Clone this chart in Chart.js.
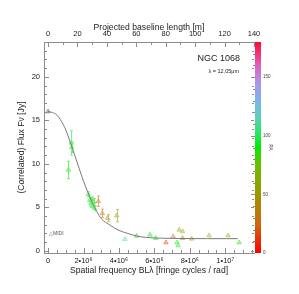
<!DOCTYPE html>
<html>
<head>
<meta charset="utf-8">
<script src="https://cdn.jsdelivr.net/npm/chart.js@4"></script>
<style>
  html, body { margin: 0; padding: 0; background: #fff; }
</style>
</head>
<body>
<canvas id="myChart" width="299" height="294"></canvas>
<script>
// MIDI correlated fluxes of NGC 1068 at 12.05 micron
const spatialFreq = [0, 1.30e6, 1.33e6, 1.15e6, 2.27e6, 2.35e6, 2.42e6, 2.48e6, 2.52e6, 2.58e6, 2.62e6, 2.45e6,
  2.83e6, 3.06e6, 3.36e6, 3.87e6, 4.34e6, 5.00e6, 5.75e6, 6.07e6, 6.65e6, 7.06e6, 7.40e6, 7.59e6, 7.28e6,
  7.34e6, 7.59e6, 8.10e6, 9.09e6, 10.16e6, 10.78e6];
const fluxJy = [16.0, 12.4, 11.9, 9.3, 6.5, 5.8, 5.5, 5.9, 5.2, 5.6, 4.9, 5.3,
  5.7, 4.3, 3.75, 4.05, 1.34, 1.72, 1.84, 1.46, 0.95, 1.64, 2.41, 2.22, 0.95,
  0.61, 1.46, 1.38, 1.76, 1.76, 0.95];
const fluxErr = [0, 1.4, 0.6, 1.0, 0.3, 0.3, 0.4, 0.3, 0.3, 0.4, 0.3, 0.3,
  0.6, 0.5, 0.4, 0.7, 0, 0, 0, 0, 0, 0, 0, 0, 0,
  0, 0, 0, 0, 0, 0];
const posAngle = [null, 95, 92, 90, 92, 88, 95, 90, 93, 85, 97, 100,
  25, 30, 45, 55, 112, 85, 88, 90, 12, 25, 65, 65, 90,
  93, 32, 38, 72, 72, 85];

// model curve
const modelU = [0, 0.25e6, 0.5e6, 0.75e6, 1.0e6, 1.25e6, 1.5e6, 1.75e6, 2.0e6, 2.25e6, 2.5e6, 2.75e6,
  3.0e6, 3.5e6, 4.0e6, 4.5e6, 5.0e6, 5.5e6, 6.0e6, 7.0e6, 8.0e6, 9.0e6, 10.0e6, 10.7e6];
const modelFlux = [16.0, 15.9, 15.6, 14.9, 13.9, 12.5, 11.0, 9.5, 8.0, 6.7, 5.5, 4.5,
  3.7, 2.95, 2.35, 2.0, 1.7, 1.55, 1.48, 1.43, 1.41, 1.4, 1.4, 1.4];

// ticks
const xMajorTicks = [0, 2e6, 4e6, 6e6, 8e6, 10e6];
const xTickLabels = ['0', '2•10⁶', '4•10⁶', '6•10⁶', '8•10⁶', '1•10⁷'];
const topMajorTicks = [0, 20, 40, 60, 80, 100, 120, 140];
const topTickLabels = ['0', '20', '40', '60', '80', '100', '120', '140'];
const yMajorTicks = [0, 5, 10, 15, 20];
const yTickLabels = ['0', '5', '10', '15', '20'];
const paMajorTicks = [0, 50, 100, 150];
const paTickLabels = ['0', '50', '100', '150'];

const lambdaMicron = 12.05;
const xMin = -0.23e6, xMax = 11.62e6;

// colour table of the PA bar
const cmapStops = [0, 25, 50, 75, 90, 100, 115, 130, 145, 160, 180];
const cmapRGB = [[255,0,0],[205,105,15],[155,150,0],[110,190,0],[0,235,0],[30,235,80],
  [90,210,180],[125,180,235],[170,150,230],[225,95,190],[255,10,50]];

const axisColor = '#8c8c8c';
const fontFam = '"Liberation Sans", Arial, sans-serif';

const paColor = (pa, mixWhite) => {
  if (pa === null) return 'rgb(140,140,140)';
  let i = 0;
  while (i < cmapStops.length - 2 && pa > cmapStops[i + 1]) i++;
  const t = Math.min(1, Math.max(0, (pa - cmapStops[i]) / (cmapStops[i + 1] - cmapStops[i])));
  const c = cmapRGB[i].map((v, k) => v + (cmapRGB[i + 1][k] - v) * t)
    .map(v => Math.round(v + (255 - v) * mixWhite));
  return `rgb(${c[0]},${c[1]},${c[2]})`;
};

const pointColors = posAngle.map(pa => paColor(pa, 0.38));

const makeTicks = (majors, minorStep, lo, hi) => {
  const out = [];
  for (let v = Math.ceil(lo / minorStep) * minorStep; v <= hi + 1e-9; v += minorStep) {
    const big = majors.some(m => Math.abs(m - v) < minorStep * 1e-3);
    out.push({ value: v, big });
  }
  return out;
};

const labelFor = (majors, labels) => (value) => {
  const i = majors.findIndex(m => Math.abs(m - value) < Math.abs(majors[1] - majors[0]) * 1e-3);
  return i >= 0 ? labels[i] : '';
};

const errorBars = {
  id: 'errorBars',
  beforeDatasetsDraw(chart) {
    const { ctx } = chart;
    const meta = chart.getDatasetMeta(1);
    const y = chart.scales.y;
    ctx.save();
    ctx.lineWidth = 0.9;
    meta.data.forEach((pt, i) => {
      if (!fluxErr[i]) return;
      const y1 = y.getPixelForValue(fluxJy[i] + fluxErr[i]);
      const y2 = y.getPixelForValue(fluxJy[i] - fluxErr[i]);
      const x = Math.round(pt.x) + 0.5;
      ctx.strokeStyle = pointColors[i];
      ctx.beginPath();
      ctx.moveTo(x, y1); ctx.lineTo(x, y2);
      ctx.moveTo(x - 1.5, y1); ctx.lineTo(x + 1.5, y1);
      ctx.moveTo(x - 1.5, y2); ctx.lineTo(x + 1.5, y2);
      ctx.stroke();
    });
    ctx.restore();
  }
};

const frame = {
  id: 'frame',
  afterDraw(chart) {
    const { ctx, chartArea: a, scales } = chart;
    ctx.save();
    ctx.strokeStyle = axisColor;
    ctx.lineWidth = 1;
    const line = (x1, y1, x2, y2) => { ctx.beginPath(); ctx.moveTo(x1, y1); ctx.lineTo(x2, y2); ctx.stroke(); };
    scales.x.ticks.forEach(t => {
      const px = Math.round(scales.x.getPixelForValue(t.value)) + 0.5;
      line(px, a.bottom, px, a.bottom - (t.big ? 5 : 3));
    });
    scales.x2.ticks.forEach(t => {
      const px = Math.round(scales.x2.getPixelForValue(t.value)) + 0.5;
      line(px, a.top, px, a.top + (t.big ? 5 : 3));
    });
    scales.y.ticks.forEach(t => {
      const py = Math.round(scales.y.getPixelForValue(t.value)) + 0.5;
      line(a.left, py, a.left + (t.big ? 5 : 3), py);
      line(a.right, py, a.right - (t.big ? 3 : 2), py);
    });
    // PA colour bar
    const pa = scales.pa;
    const top = pa.getPixelForValue(180), bot = pa.getPixelForValue(0);
    const g = ctx.createLinearGradient(0, bot, 0, top);
    cmapStops.forEach((s, i) => g.addColorStop(s / 180, `rgb(${cmapRGB[i].join(',')})`));
    ctx.fillStyle = g;
    ctx.fillRect(a.right + 1, top, 6, bot - top);
    pa.ticks.forEach(t => {
      const py = Math.round(pa.getPixelForValue(t.value)) + 0.5;
      line(a.right + 1, py, a.right - (t.big ? 3 : 1), py);
    });
    // annotations
    ctx.fillStyle = '#222';
    ctx.textAlign = 'right';
    ctx.textBaseline = 'middle';
    ctx.font = `9px ${fontFam}`;
    ctx.fillText('NGC 1068', a.right - 14, a.top + 17);
    ctx.font = `5.5px ${fontFam}`;
    ctx.fillText('λ = 12.05μm', a.right - 15, a.top + 29);
    ctx.textAlign = 'left';
    ctx.fillStyle = '#555';
    ctx.font = `5px ${fontFam}`;
    ctx.fillText('△MIDI', a.left + 5, a.bottom - 19);
    ctx.restore();
  }
};

const tickFont = { family: fontFam, size: 7.5 };
const titleFont = { family: fontFam, size: 8.6 };

const config = {
  type: 'line',
  data: {
    datasets: [
      {
        label: 'model',
        data: modelU.map((u, i) => ({ x: u, y: modelFlux[i] })),
        borderColor: '#7a7a7a',
        borderWidth: 1,
        pointRadius: 0,
        cubicInterpolationMode: 'monotone',
        fill: false
      },
      {
        label: 'MIDI',
        data: spatialFreq.map((u, i) => ({ x: u, y: fluxJy[i] })),
        showLine: false,
        pointStyle: 'triangle',
        pointRadius: 2.6,
        borderWidth: 0.8,
        pointBorderColor: pointColors,
        pointBackgroundColor: pointColors.map(c => c.replace('rgb', 'rgba').replace(')', ',0.5)'))
      }
    ]
  },
  options: {
    responsive: false,
    animation: false,
    layout: { padding: { right: 23 } },
    plugins: { legend: { display: false }, tooltip: { enabled: false } },
    scales: {
      x: {
        type: 'linear', position: 'bottom', min: xMin, max: xMax,
        afterBuildTicks: s => { s.ticks = makeTicks(xMajorTicks, 0.5e6, xMin, xMax); },
        afterFit: s => { s.height = 41; },
        grid: { display: false, drawTicks: false },
        border: { color: axisColor },
        ticks: { autoSkip: false, maxRotation: 0, padding: 3, color: '#222', font: tickFont,
          callback: labelFor(xMajorTicks, xTickLabels) },
        title: { display: true, text: 'Spatial frequency BLλ [fringe cycles / rad]', color: '#222',
          font: titleFont, padding: { bottom: 18.5 } }
      },
      x2: {
        type: 'linear', position: 'top', min: xMin * lambdaMicron * 1e-6, max: xMax * lambdaMicron * 1e-6,
        afterBuildTicks: s => { s.ticks = makeTicks(topMajorTicks, 10, s.min, s.max + 0.1); },
        afterFit: s => { s.height = 42; },
        grid: { display: false, drawTicks: false },
        border: { color: axisColor },
        ticks: { autoSkip: false, maxRotation: 0, padding: 3.5, color: '#222', font: tickFont,
          callback: labelFor(topMajorTicks, topTickLabels) },
        title: { display: true, text: 'Projected baseline length [m]', color: '#222',
          font: titleFont, padding: { top: 22.5 } }
      },
      y: {
        type: 'linear', position: 'left', min: -0.25, max: 24,
        afterBuildTicks: s => { s.ticks = makeTicks(yMajorTicks, 1, 0, 24); },
        afterFit: s => { s.width = 44; },
        grid: { display: false, drawTicks: false },
        border: { color: axisColor },
        ticks: { autoSkip: false, padding: 4, color: '#222', font: tickFont,
          callback: labelFor(yMajorTicks, yTickLabels) },
        title: { display: true, text: '(Correlated) Flux Fν [Jy]', color: '#222',
          font: titleFont, padding: { top: 16.5 } }
      },
      pa: {
        type: 'linear', position: 'right', min: 0, max: 180,
        afterBuildTicks: s => { s.ticks = makeTicks(paMajorTicks, 10, 0, 180); },
        afterFit: s => { s.width = 22; },
        grid: { display: false, drawTicks: false },
        border: { display: false },
        ticks: { autoSkip: false, padding: 9, color: '#444', font: { family: fontFam, size: 4.5 },
          callback: labelFor(paMajorTicks, paTickLabels) },
        title: { display: true, text: 'PA', color: '#444', font: { family: fontFam, size: 5 },
          padding: { top: 3 } }
      }
    }
  },
  plugins: [errorBars, frame]
};

const myChart = document.getElementById('myChart');
new Chart(myChart, config);
</script>
</body>
</html>
